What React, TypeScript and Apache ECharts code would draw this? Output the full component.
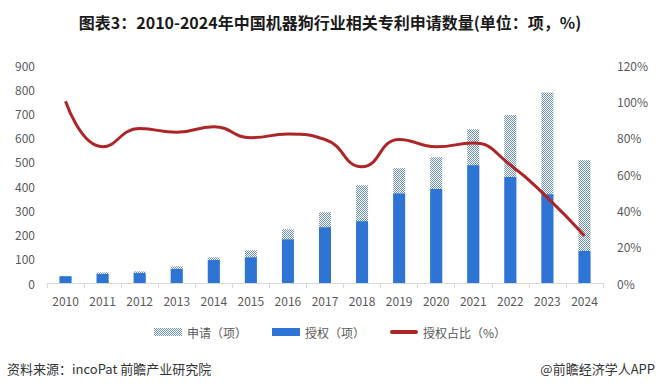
import React, { useEffect, useRef } from "react";
import * as echarts from "echarts";

const years = ["2010", "2011", "2012", "2013", "2014", "2015", "2016", "2017", "2018", "2019", "2020", "2021", "2022", "2023", "2024"];
const applications = [28, 44, 48, 69, 106, 135, 222, 292, 404, 474, 519, 635, 694, 786, 507];
const grants = [28, 37, 41, 58, 95, 106, 180, 230, 255, 370, 388, 486, 438, 366, 132];
const grantRatio = [100, 75, 85, 83, 86, 80, 82, 79, 64, 79, 75, 77, 65, 47, 26];

const titleText = "图表3：2010-2024年中国机器狗行业相关专利申请数量(单位：项，%)";
const sourceText = "资料来源：incoPat 前瞻产业研究院";
const brandText = "@前瞻经济学人APP";

const FONT = "'Noto Sans CJK SC', 'Noto Sans', sans-serif";

export default function App() {
  const ref = useRef<HTMLDivElement>(null);
  useEffect(() => {
    if (!ref.current) return;
    const chart = echarts.init(ref.current, undefined, { renderer: "svg" });
    const cv = document.createElement("canvas");
    cv.width = 2;
    cv.height = 2;
    const ctx = cv.getContext("2d")!;
    ctx.fillStyle = "#ffffff";
    ctx.fillRect(0, 0, 2, 2);
    ctx.fillStyle = "#6a8fb0";
    ctx.fillRect(0, 0, 1, 1);
    ctx.fillRect(1, 1, 1, 1);
    const pattern: any = { image: cv, repeat: "repeat" };

    chart.setOption({
      animation: false,
      textStyle: { fontFamily: FONT },
      title: {
        text: titleText,
        left: "center",
        top: 9,
        textStyle: { fontSize: 16, fontWeight: "bold", color: "#1a1a1a", fontFamily: FONT },
      },
      grid: { left: 47, right: 57, top: 65, bottom: 109 },
      legend: {
        left: "center",
        top: 321,
        itemWidth: 28,
        itemHeight: 8,
        itemGap: 25,
        textStyle: { fontSize: 12, color: "#595959", fontFamily: FONT },
        data: [
          { name: "申请（项）", icon: "rect" },
          { name: "授权（项）", icon: "rect" },
          {
            name: "授权占比（%）",
            icon: "path://M2,0 L26,0 A2,2 0 0 1 26,4 L2,4 A2,2 0 0 1 2,0 Z",
            itemStyle: { color: "#ac2628", borderWidth: 0 },
          },
        ],
      },
      xAxis: {
        type: "category",
        data: years,
        axisLine: { lineStyle: { color: "#d9d9d9" } },
        axisTick: { show: true, length: 5, lineStyle: { color: "#d9d9d9" } },
        axisLabel: { color: "#595959", fontSize: 12, margin: 11 },
      },
      yAxis: [
        {
          type: "value",
          min: 0,
          max: 900,
          interval: 100,
          splitLine: { show: false },
          axisLine: { show: false },
          axisTick: { show: false },
          axisLabel: { color: "#595959", fontSize: 12, margin: 12 },
        },
        {
          type: "value",
          min: 0,
          max: 120,
          interval: 20,
          splitLine: { show: false },
          axisLine: { show: false },
          axisTick: { show: false },
          axisLabel: { color: "#595959", fontSize: 12, margin: 14, formatter: "{value}%" },
        },
      ],
      series: [
        {
          name: "申请（项）",
          type: "bar",
          data: applications,
          barWidth: 12,
          barGap: "-100%",
          itemStyle: { color: pattern },
        },
        {
          name: "授权（项）",
          type: "bar",
          data: grants,
          barWidth: 12,
          barGap: "-100%",
          itemStyle: { color: "#2e74d4" },
        },
        {
          name: "授权占比（%）",
          type: "line",
          yAxisIndex: 1,
          data: grantRatio,
          smooth: 0.5,
          symbol: "none",
          lineStyle: { color: "#ac2628", width: 3 },
          itemStyle: { color: "#ac2628" },
        },
      ],
      graphic: [
        {
          type: "text",
          left: 7,
          top: 362,
          style: { text: sourceText, fontSize: 13, fill: "#333333", fontFamily: FONT },
        },
        {
          type: "text",
          right: 5,
          top: 362,
          style: { text: brandText, fontSize: 13, fill: "#333333", fontFamily: FONT },
        },
      ],
    });
    return () => chart.dispose();
  }, []);
  return (
    <div
      ref={ref}
      style={{ position: "fixed", left: 0, top: 0, width: 660, height: 392, background: "#ffffff" }}
    />
  );
}
